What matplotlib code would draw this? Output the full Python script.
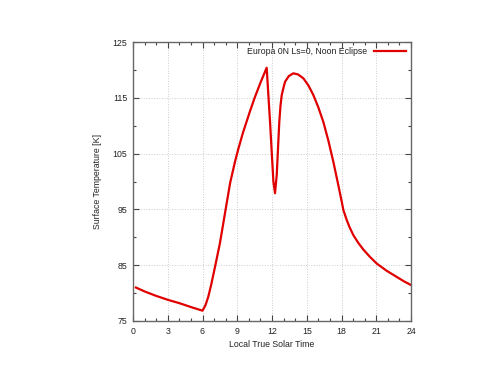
import matplotlib
matplotlib.use("Agg")
import matplotlib.pyplot as plt
from matplotlib.ticker import MultipleLocator

plt.rcParams['font.family'] = ['Liberation Sans', 'DejaVu Sans']

time_h = [0.25, 1, 2, 3, 4, 5, 6.0, 6.25, 6.5, 6.75, 7.08, 7.5, 7.94, 8.38, 8.81, 9.1,
          9.5, 10.1, 10.5, 11.0, 11.54, 11.83, 12.12, 12.26, 12.41, 12.52, 12.63, 12.73,
          12.84, 13.0, 13.13, 13.45, 13.84, 14.25, 14.71, 15.15, 15.57, 16.0, 16.43,
          16.87, 17.3, 17.7, 18.02, 18.16, 18.45, 18.7, 19.02, 19.45, 19.89, 20.45,
          21.04, 21.9, 22.77, 23.4, 24]
temp_k = [81.0, 80.3, 79.5, 78.8, 78.2, 77.5, 76.85, 77.8, 79.35, 81.5, 84.7, 88.9, 94.3,
          99.7, 103.6, 105.9, 108.8, 112.6, 115.0, 117.7, 120.4, 110.7, 100.0, 97.9,
          101.2, 106.0, 110.7, 113.5, 115.5, 116.9, 117.9, 118.9, 119.4, 119.2, 118.5,
          117.2, 115.5, 113.3, 110.7, 107.3, 103.5, 99.6, 96.4, 94.9, 93.1, 91.8, 90.4,
          89.0, 87.8, 86.5, 85.3, 84.0, 82.9, 82.1, 81.45]
series_label = "Europa 0N Ls=0, Noon Eclipse"
x_ticks = [0, 3, 6, 9, 12, 15, 18, 21, 24]
y_ticks = [75, 85, 95, 105, 115, 125]

fs = 6.3
fig = plt.figure(figsize=(5, 3.86), dpi=100)
ax = fig.add_axes([0.266, 0.1684, 0.556, 0.7226])
ax.plot(time_h, temp_k, color='#e00000', lw=1.6, label=series_label)

ax.set_xlim(0, 24)
ax.set_ylim(75, 125)
ax.set_xticks(x_ticks)
ax.set_yticks(y_ticks)
ax.xaxis.set_minor_locator(MultipleLocator(1))
ax.yaxis.set_minor_locator(MultipleLocator(5))
ax.tick_params(which='both', direction='in', top=True, right=True, colors='#444444',
               labelcolor='#222222', labelsize=fs, width=0.8)
ax.tick_params(which='major', length=4, pad=4)
ax.tick_params(which='minor', length=2)
for s in ax.spines.values():
    s.set_color('#666666')
    s.set_linewidth(1.0)
ax.grid(True, which='major', color='#cccccc', linestyle=':', linewidth=0.7)
ax.set_axisbelow(True)

ax.set_xlabel("Local True Solar Time", fontsize=fs, color='#222222', labelpad=3)
ax.set_ylabel("Surface Temperature [K]", fontsize=fs, color='#222222', labelpad=8)

ax.legend(loc='upper right', frameon=False, markerfirst=False, fontsize=fs,
          handlelength=3.6, handletextpad=0.8, borderaxespad=0.2, labelcolor='#222222')

fig.savefig("out.png", dpi=100)
